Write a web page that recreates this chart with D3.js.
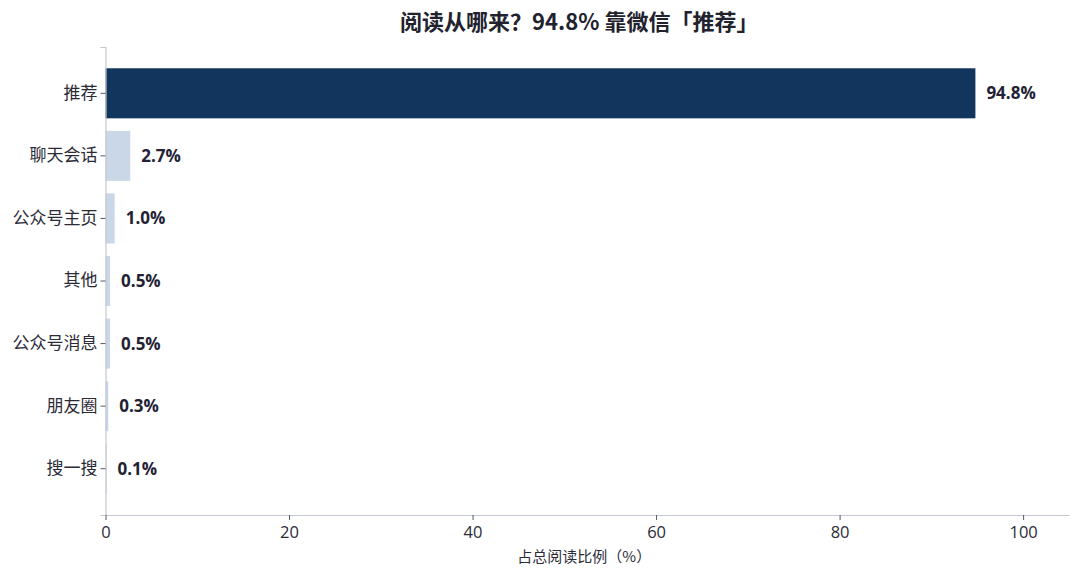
<!DOCTYPE html>
<html>
<head>
<meta charset="utf-8">
<script src="https://cdn.jsdelivr.net/npm/d3@7"></script>
<style>
  body { margin: 0; background: #fff; }
  text { font-family: "Open Sans", "Noto Sans CJK SC", sans-serif; }
</style>
</head>
<body>
<div id="chart"></div>
<script>
// Reading sources, share of total reads
var categories = ["推荐", "聊天会话", "公众号主页", "其他", "公众号消息", "朋友圈", "搜一搜"];
var shares = [94.8, 2.7, 1.0, 0.5, 0.5, 0.3, 0.1];
var xTicks = [0, 20, 40, 60, 80, 100];

var width = 1080, height = 578;
var margin = {top: 47, right: 11, bottom: 63, left: 105.5};

var svg = d3.select("#chart").append("svg")
    .attr("width", width)
    .attr("height", height);

var x = d3.scaleLinear()
    .domain([0, 105])
    .range([margin.left, width - margin.right]);

var y = d3.scaleBand()
    .domain(categories)
    .range([margin.top, height - margin.bottom])
    .paddingInner(0.2)
    .paddingOuter(0.34);

// bars
svg.selectAll("rect.bar")
    .data(categories)
    .enter().append("rect")
    .attr("class", "bar")
    .attr("x", x(0))
    .attr("y", function(d) { return y(d); })
    .attr("width", function(d, i) { return x(shares[i]) - x(0); })
    .attr("height", y.bandwidth())
    .attr("fill", function(d, i) { return i === 0 ? "#12355e" : "#c9d7e7"; });

// value labels
svg.selectAll("text.val")
    .data(categories)
    .enter().append("text")
    .attr("class", "val")
    .attr("x", function(d, i) { return x(shares[i]) + 11; })
    .attr("y", function(d) { return y(d) + y.bandwidth() / 2; })
    .attr("dy", "0.35em")
    .style("font-size", "17px")
    .style("font-weight", "bold")
    .style("fill", "#222234")
    .text(function(d, i) { return shares[i].toFixed(1) + "%"; });

// y axis
var yAxis = svg.append("g")
    .attr("transform", "translate(" + margin.left + ",0)")
    .call(d3.axisLeft(y).tickSize(5).tickPadding(3));
yAxis.select(".domain").attr("stroke", "#c3c8d0").attr("stroke-width", 1.2);
yAxis.selectAll(".tick line").attr("stroke", "#555a66");
yAxis.selectAll(".tick text")
    .style("font-size", "17px")
    .style("fill", "#2b2b38")
    .style("font-family", "'Noto Sans CJK SC', sans-serif");

// x axis
var xAxis = svg.append("g")
    .attr("transform", "translate(0," + (height - margin.bottom) + ")")
    .call(d3.axisBottom(x).tickValues(xTicks).tickSize(5).tickPadding(6).tickSizeOuter(0));
xAxis.select(".domain").attr("stroke", "#c3c8d0").attr("stroke-width", 1.2);
xAxis.selectAll(".tick line").attr("stroke", "#555a66");
xAxis.selectAll(".tick text")
    .style("font-size", "16.5px")
    .style("fill", "#2b2b38");

// x axis label
svg.append("text")
    .attr("x", (margin.left + width - margin.right) / 2 - 3)
    .attr("y", 562)
    .attr("text-anchor", "middle")
    .style("font-size", "15px")
    .style("fill", "#2b2b38")
    .style("font-family", "'Noto Sans CJK SC', sans-serif")
    .text("占总阅读比例（%）");

// title
svg.append("text")
    .attr("x", (margin.left + width - margin.right) / 2 - 8)
    .attr("y", 30)
    .attr("text-anchor", "middle")
    .style("font-size", "22px")
    .style("font-weight", "bold")
    .style("fill", "#22222e")
    .style("font-family", "'Noto Sans CJK SC', sans-serif")
    .text("阅读从哪来？94.8% 靠微信「推荐」");
</script>
</body>
</html>
